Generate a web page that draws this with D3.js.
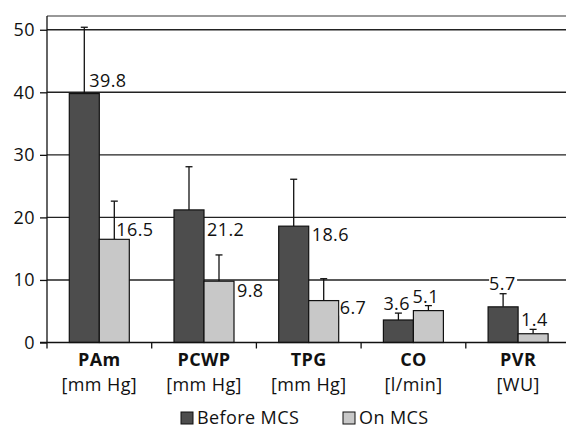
<!DOCTYPE html>
<html>
<head>
<meta charset="utf-8">
<script src="https://cdn.jsdelivr.net/npm/d3@7"></script>
<style>
  body { margin: 0; background: #fff; }
  svg { display: block; font-family: "Open Sans", sans-serif; letter-spacing: 0.4px; }
</style>
</head>
<body>
<div class="main-chart"></div>
<script>
// данные
const categories = [`PAm`, `PCWP`, `TPG`, `CO`, `PVR`];
const units = [`[mm Hg]`, `[mm Hg]`, `[mm Hg]`, `[l/min]`, `[WU]`];
const series = [`Before MCS`, `On MCS`];
const beforeValues = [39.8, 21.2, 18.6, 3.6, 5.7];
const onValues = [16.5, 9.8, 6.7, 5.1, 1.4];
const beforeErr = [10.6, 6.9, 7.5, 1.1, 2.1];
const onErr = [6.1, 4.2, 3.5, 0.8, 0.7];
const yTicks = [0, 10, 20, 30, 40, 50];

// сдвиг подписей от верха столбца (как в исходнике, вручную)
const labelShift = [
  [[5, -7], [2, -3]],
  [[18, 26], [18, 16]],
  [[18, 15], [16, 13]],
  [[-15, -10], [-16, -8]],
  [[-14, -17], [-12, -8]]
];

const colors = [`#4d4d4d`, `#c8c8c8`];
const fs = 18;

const W = 566, H = 430;
const margin = {top: 16, left: 47},
  plotRight = 570.5,
  plotBottom = 342.5;

const svg = d3.select(`.main-chart`).append(`svg`)
  .attr(`width`, W)
  .attr(`height`, H);

const x = d3.scaleBand().domain(categories).range([margin.left, plotRight]);
const x1 = d3.scaleBand().domain(series).range([22.3, 82.3]);
const y = d3.scaleLinear().domain([0, 52.2]).range([plotBottom, margin.top]);

// сетка
svg.append(`g`)
  .selectAll(`line`)
  .data(yTicks.filter(d => d > 0))
  .enter().append(`line`)
  .attr(`x1`, margin.left).attr(`x2`, W)
  .attr(`y1`, d => y(d)).attr(`y2`, d => y(d))
  .attr(`stroke`, `#222`)
  .attr(`stroke-width`, 1.4);

// верхняя рамка
svg.append(`line`)
  .attr(`x1`, margin.left).attr(`x2`, W)
  .attr(`y1`, margin.top).attr(`y2`, margin.top)
  .attr(`stroke`, `#333`).attr(`stroke-width`, 1.2);

const rows = categories.map((c, i) => ({
  cat: c,
  vals: [
    {s: series[0], v: beforeValues[i], e: beforeErr[i], k: 0, sh: labelShift[i][0]},
    {s: series[1], v: onValues[i], e: onErr[i], k: 1, sh: labelShift[i][1]}
  ]
}));

const groups = svg.selectAll(`.cat`)
  .data(rows)
  .enter().append(`g`)
  .attr(`class`, `cat`)
  .attr(`transform`, d => `translate(${x(d.cat)},0)`);

const bars = groups.selectAll(`.bar`)
  .data(d => d.vals)
  .enter().append(`g`);

// усы погрешности
bars.append(`line`)
  .attr(`x1`, d => x1(d.s) + x1.bandwidth() / 2)
  .attr(`x2`, d => x1(d.s) + x1.bandwidth() / 2)
  .attr(`y1`, d => y(d.v))
  .attr(`y2`, d => y(d.v + d.e))
  .attr(`stroke`, `#111`).attr(`stroke-width`, 1.3);
bars.append(`line`)
  .attr(`x1`, d => x1(d.s) + x1.bandwidth() / 2 - 3.5)
  .attr(`x2`, d => x1(d.s) + x1.bandwidth() / 2 + 3.5)
  .attr(`y1`, d => y(d.v + d.e))
  .attr(`y2`, d => y(d.v + d.e))
  .attr(`stroke`, `#111`).attr(`stroke-width`, 1.3);

bars.append(`rect`)
  .attr(`x`, d => x1(d.s))
  .attr(`y`, d => y(d.v))
  .attr(`width`, x1.bandwidth())
  .attr(`height`, d => plotBottom - y(d.v))
  .attr(`fill`, d => colors[d.k])
  .attr(`stroke`, `#111`)
  .attr(`stroke-width`, 1.2);

// подписи значений
const labels = bars.append(`g`)
  .attr(`transform`, d => `translate(${x1(d.s) + x1.bandwidth() / 2 + d.sh[0]},${y(d.v) + d.sh[1]})`);
labels.append(`rect`)
  .attr(`x`, 0).attr(`y`, -13).attr(`height`, 15)
  .attr(`fill`, `#fff`)
  .attr(`width`, d => d.v >= 10 ? 40 : 28);
labels.append(`text`)
  .attr(`font-size`, fs)
  .attr(`fill`, `#111`)
  .text(d => d.v.toFixed(1));

// ось y
svg.append(`g`)
  .attr(`transform`, `translate(${margin.left},0)`)
  .call(d3.axisLeft(y).tickValues(yTicks).tickSize(7).tickPadding(5))
  .call(g => g.select(`.domain`).attr(`d`, `M0,${margin.top}V${plotBottom}`).attr(`stroke`, `#111`).attr(`stroke-width`, 1.3))
  .call(g => g.selectAll(`.tick line`).attr(`stroke`, `#111`).attr(`stroke-width`, 1.3))
  .call(g => g.selectAll(`.tick text`).attr(`font-size`, fs).attr(`fill`, `#111`).attr(`font-family`, `"Open Sans", sans-serif`));

// ось x
const xAxis = svg.append(`g`)
  .attr(`transform`, `translate(0,${plotBottom})`);
xAxis.append(`line`)
  .attr(`x1`, margin.left - 7).attr(`x2`, W)
  .attr(`stroke`, `#111`).attr(`stroke-width`, 1.3);
xAxis.selectAll(`.sep`)
  .data(categories)
  .enter().append(`line`)
  .attr(`x1`, d => x(d)).attr(`x2`, d => x(d))
  .attr(`y1`, 0).attr(`y2`, 6)
  .attr(`stroke`, `#111`).attr(`stroke-width`, 1.3);

const catText = xAxis.selectAll(`.lbl`)
  .data(categories)
  .enter().append(`text`)
  .attr(`text-anchor`, `middle`)
  .attr(`font-size`, fs)
  .attr(`fill`, `#111`);
catText.append(`tspan`)
  .attr(`x`, d => x(d) + x.bandwidth() / 2)
  .attr(`y`, 23)
  .attr(`font-weight`, `bold`)
  .text(d => d);
catText.append(`tspan`)
  .attr(`x`, d => x(d) + x.bandwidth() / 2)
  .attr(`y`, 48)
  .text((d, i) => units[i]);

// легенда
const legendX = [181, 343];
const legend = svg.selectAll(`.legend`)
  .data(series)
  .enter().append(`g`)
  .attr(`transform`, (d, i) => `translate(${legendX[i]},412)`);
legend.append(`rect`)
  .attr(`width`, 12).attr(`height`, 12)
  .attr(`fill`, (d, i) => colors[i])
  .attr(`stroke`, `#111`).attr(`stroke-width`, 1);
legend.append(`text`)
  .attr(`x`, 16).attr(`y`, 12)
  .attr(`font-size`, fs)
  .attr(`fill`, `#111`)
  .text(d => d);
</script>
</body>
</html>
